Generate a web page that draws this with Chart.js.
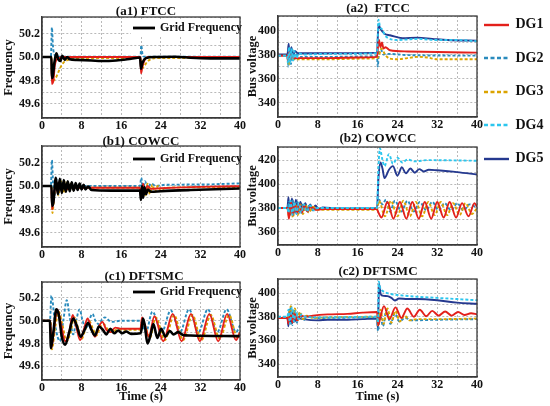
<!DOCTYPE html>
<html lang="en">
<head>
<meta charset="UTF-8">
<title>FTCC / COWCC / DFTSMC</title>
<script src="https://cdn.jsdelivr.net/npm/chart.js"></script>
<style>
  body { margin: 0; background: #fff; }
  #fig { position: relative; width: 550px; height: 406px; font-family: "Liberation Serif", "Times New Roman", serif; font-weight: bold; color: #111; overflow: hidden; }
  .panel { position: absolute; }
  .ttl { position: absolute; font-size: 13px; text-align: center; white-space: nowrap; line-height: 14px; }
  .gf { position: absolute; background: #fff; font-size: 12px; height: 16px; line-height: 16px; white-space: nowrap; z-index: 2; }
  .gf svg, .lg svg { vertical-align: middle; }
  .lg { position: absolute; left: 482px; font-size: 14px; height: 18px; line-height: 18px; white-space: nowrap; }
</style>
</head>
<body>
<div id="fig">
  <div class="panel" style="left:0;top:0;width:250px;height:130px"><canvas id="a1"></canvas></div>
  <div class="panel" style="left:244px;top:0;width:240px;height:130px"><canvas id="a2"></canvas></div>
  <div class="panel" style="left:0;top:130px;width:250px;height:130px"><canvas id="b1"></canvas></div>
  <div class="panel" style="left:244px;top:130px;width:240px;height:130px"><canvas id="b2"></canvas></div>
  <div class="panel" style="left:0;top:265px;width:250px;height:141px"><canvas id="c1"></canvas></div>
  <div class="panel" style="left:244px;top:265px;width:240px;height:141px"><canvas id="c2"></canvas></div>

  <div class="ttl" style="left:91px;width:110px;top:4px">(a1) FTCC</div>
  <div class="ttl" style="left:323px;width:110px;top:1px">(a2)&nbsp; FTCC</div>
  <div class="ttl" style="left:86px;width:110px;top:134px">(b1) COWCC</div>
  <div class="ttl" style="left:323px;width:110px;top:131px">(b2) COWCC</div>
  <div class="ttl" style="left:89px;width:110px;top:269px">(c1) DFTSMC</div>
  <div class="ttl" style="left:323px;width:110px;top:264px">(c2) DFTSMC</div>

  <div class="gf" style="left:131px;top:19px;width:108px"><svg width="26" height="6"><line x1="2" y1="3" x2="24" y2="3" stroke="#000" stroke-width="2.8"/></svg> Grid Frequency</div>
  <div class="gf" style="left:131px;top:150px;width:108px"><svg width="26" height="6"><line x1="2" y1="3" x2="24" y2="3" stroke="#000" stroke-width="2.8"/></svg> Grid Frequency</div>
  <div class="gf" style="left:131px;top:283px;width:108px"><svg width="26" height="6"><line x1="2" y1="3" x2="24" y2="3" stroke="#000" stroke-width="2.8"/></svg> Grid Frequency</div>

  <div id="dgLegend"></div>
</div>

<script>
// ---- data: [time (s), value] ----
const xTickLabels = [0, 8, 16, 24, 32, 40];
const freqTickLabels = [49.6, 49.8, 50.0, 50.2];
const voltTickLabels = [340, 360, 380, 400, 420];
const legendNames = ['DG1', 'DG2', 'DG3', 'DG4', 'DG5'];

// (a1) FTCC frequency
const a1Grid = [[0,50],[1.9,50],[2.0,49.82],[2.2,49.84],[2.5,49.95],[2.9,50.03],[3.3,49.98],[3.7,49.965],[4.1,50.01],[4.6,49.975],[5.1,50.0],[5.6,49.98],[7,49.975],[10,49.97],[12,49.965],[15,49.97],[18,49.985],[19.8,49.995],[20.0,49.9],[20.3,49.95],[21,49.99],[23,50.0],[27,50.002],[30,49.993],[34,49.988],[40,49.988]];
const a1DG1 = [[0,50],[1.9,50],[2.0,49.77],[2.3,49.8],[2.6,49.93],[3,49.98],[3.5,49.99],[4,50.0],[19.9,50.0],[20.0,49.86],[20.3,49.92],[20.8,49.98],[21.5,50.0],[40,50.0]];
const a1DG2 = [[0,50],[1.8,50],[2.0,50.25],[2.2,50.1],[2.5,50.02],[3,50.003],[19.9,50.003],[20.05,50.1],[20.3,50.02],[20.6,50.003],[40,50.003]];
const a1DG3 = [[0,50],[1.9,50],[2.05,49.79],[2.4,49.8],[3,49.84],[3.6,49.9],[4.3,49.95],[5,49.97],[6,49.98],[8,49.99],[19.9,49.99],[20.1,49.9],[20.6,49.92],[21.3,49.96],[22,49.98],[23,49.99],[40,49.99]];

// (b1) COWCC frequency
const b1Grid = [[0,50],[1.9,50],[2.05,49.83],[2.3,49.86],[2.8,50.07],[3.2,49.93],[3.6,50.06],[4.0,49.94],[4.4,50.05],[4.8,49.95],[5.2,50.04],[5.6,49.955],[6.0,50.03],[6.4,49.96],[6.8,50.025],[7.2,49.965],[7.6,50.02],[8.0,49.97],[8.4,50.01],[8.8,49.97],[9.3,49.995],[10,49.965],[14,49.96],[19.8,49.96],[20.0,49.88],[20.2,50.0],[20.45,49.9],[20.7,49.99],[21,49.93],[21.4,49.97],[22,49.95],[24,49.955],[30,49.965],[40,49.978]];
const b1DG1 = [[0,50],[1.9,50],[2.05,49.8],[2.4,49.9],[2.8,50.05],[3.2,49.94],[3.6,50.04],[4.0,49.96],[4.5,50.02],[5.0,49.97],[5.5,50.0],[6.5,49.985],[19.8,49.985],[20.05,49.9],[20.4,50.02],[20.8,49.95],[21.3,50.0],[22,49.975],[24,49.98],[30,49.99],[36,49.995],[40,49.998]];
const b1DG2 = [[0,50],[1.8,50],[2.0,50.22],[2.25,50.0],[2.5,49.9],[2.9,50.06],[3.3,49.93],[3.8,50.04],[4.3,49.96],[5,50.02],[6,50.0],[19.8,50.0],[20.05,50.07],[20.4,49.97],[20.8,50.04],[21.4,49.98],[22,50.02],[23,50.0],[25,50.01],[32,50.012],[40,50.022]];
const b1DG3 = [[0,50],[1.9,50],[2.1,49.77],[2.5,49.93],[2.9,50.04],[3.3,49.92],[3.8,50.04],[4.3,49.94],[4.8,50.03],[5.3,49.96],[5.8,50.02],[6.3,49.97],[6.8,50.01],[7.5,49.985],[19.8,49.985],[20.1,49.9],[20.5,50.0],[20.9,49.92],[21.3,50.02],[21.8,49.93],[22.3,50.01],[22.8,49.95],[23.4,50.0],[24,49.96],[25,49.985],[40,49.99]];

// (c1) DFTSMC frequency
const c1Grid = [[0,50],[1.6,50],[1.8,49.76],[2.3,49.9],[2.9,50.1],[3.4,50.05],[4.0,49.86],[4.7,49.79],[5.5,49.9],[6.3,50.02],[7.0,49.96],[7.8,49.86],[8.6,49.92],[9.3,49.98],[10.0,49.92],[10.7,49.87],[11.5,49.95],[12.3,49.92],[13,49.88],[13.8,49.93],[14.6,49.89],[15.4,49.915],[16.2,49.89],[17,49.905],[18,49.885],[19.9,49.89],[20.1,49.92],[20.4,50.02],[20.8,49.95],[21.3,49.8],[21.9,49.87],[22.5,49.97],[23.3,49.85],[24.1,49.93],[24.9,49.86],[25.8,49.91],[26.6,49.88],[27.5,49.9],[28.5,49.875],[30,49.87],[40,49.865]];
const c1DG1 = [[0,50],[1.7,50],[1.9,49.76],[2.5,49.95],[3.1,50.1],[3.8,49.98],[4.7,49.82],[5.5,49.9],[6.2,50.05],[6.9,49.95],[7.7,49.83],[8.5,49.93],[9.2,50.02],[9.9,49.94],[10.7,49.86],[11.5,49.95],[12.2,49.99],[13,49.92],[13.8,49.9],[14.8,49.94],[16,49.93],[19.9,49.93],[20.2,50.03],[20.8,49.96],[21.6,49.86],[22.7,50.04],[24.5,49.82],[26.4,50.06],[28.2,49.82],[30.1,50.06],[31.9,49.82],[33.8,50.06],[35.6,49.82],[37.4,50.06],[39.2,49.83],[40,49.9]];
const c1DG2 = [[0,50],[1.6,50],[1.9,50.22],[2.7,49.95],[3.6,49.82],[4.3,50.0],[5.0,50.18],[5.6,50.03],[6.3,49.88],[6.9,50.0],[7.6,50.1],[8.2,50.0],[8.9,49.93],[9.5,50.0],[10.2,50.06],[10.8,50.0],[11.5,49.97],[12.1,50.01],[12.7,50.03],[14,49.99],[16,50.0],[19.9,50.0],[20.3,49.96],[21,49.9],[22.3,50.08],[24.2,49.9],[26.0,50.09],[27.9,49.9],[29.7,50.1],[31.6,49.9],[33.5,50.1],[35.4,49.9],[37.3,50.1],[39.2,49.9],[40,49.96]];
const c1DG3 = [[0,50],[1.7,50],[2.0,49.75],[2.7,49.95],[3.4,50.08],[4.1,49.97],[5.0,49.82],[5.8,49.9],[6.5,50.03],[7.2,49.95],[8.0,49.84],[8.8,49.93],[9.5,50.0],[10.2,49.94],[11.0,49.87],[11.8,49.95],[12.5,49.97],[13.3,49.92],[14.2,49.9],[15.2,49.925],[16.5,49.92],[19.9,49.92],[20.3,50.02],[20.9,49.95],[21.8,49.85],[23.0,50.03],[24.8,49.83],[26.7,50.05],[28.5,49.83],[30.4,50.05],[32.2,49.83],[34.1,50.05],[35.9,49.84],[37.8,50.05],[39.5,49.85],[40,49.9]];

// (a2) FTCC bus voltage
const a2DG1 = [[0,379],[1.9,379],[2.0,374],[2.2,382],[2.5,376],[2.8,380],[3.2,377],[4,377],[10,377],[16,377.5],[19.9,378],[20.1,386],[20.3,392],[20.6,386],[20.9,390],[21.2,385],[21.6,386],[22.5,383.5],[26,382.5],[32,382],[40,381.5]];
const a2DG2 = [[0,379],[1.9,379],[2.05,370],[2.3,386],[2.6,372],[2.9,384],[3.3,376],[3.8,380],[4.5,378],[10,378],[19.9,378.5],[20.05,370],[20.3,382],[20.7,384],[21.2,380],[22,380.5],[26,379.5],[40,379]];
const a2DG3 = [[0,379],[1.9,379],[2.1,371],[2.5,378],[3,376],[4,376],[10,376],[16,376.5],[19.9,377],[20.2,378],[20.8,385],[21.5,380],[22.5,376.5],[24,376],[26,377],[28,378],[30,377.5],[32,376],[40,376]];
const a2DG4 = [[0,379],[1.9,379],[2.0,372],[2.2,386],[2.45,373],[2.7,385],[3.0,375],[3.3,383],[3.7,377],[4.2,381],[5,380],[10,380.5],[19.9,381],[20.2,409],[20.5,403],[20.9,401],[21.5,396],[22,394],[24,392],[26,392.5],[28,393],[32,392],[36,392],[40,391]];
const a2DG5 = [[0,380],[1.9,380],[2.15,389],[2.4,375],[2.7,386],[3.0,378],[3.4,383],[4,381],[10,381],[19.9,381.5],[20.2,405],[20.5,402],[21,399],[21.5,397],[22.5,396],[25,393.5],[28,394],[31,393],[34,392],[40,391.5]];

// (b2) COWCC bus voltage
const b2DG1 = [[0,380],[1.9,380],[2.2,371],[2.6,385],[3.0,374],[3.4,384],[3.8,375],[4.3,383],[4.8,376],[5.3,382],[5.9,377],[6.6,381],[7.5,378.5],[9,379],[19.9,379],[20.2,376],[20.8,372],[22.0,385],[23.2,371],[24.5,385],[25.8,371],[27.0,385],[28.3,371],[29.5,385],[30.8,371],[32.0,385],[33.3,372],[34.5,385],[35.8,372],[37.0,384],[38.3,373],[39.5,384],[40,381]];
const b2DG2 = [[0,380],[1.9,380],[2.1,385],[2.5,374],[2.9,387],[3.4,375],[3.9,385],[4.4,376],[5,383],[5.6,377],[6.3,382],[7,378],[8,379.5],[19.9,379.5],[20.3,387],[21,383],[21.7,387],[22.5,377],[23.5,386],[24.8,377],[26,386],[27.3,377],[28.5,385],[29.8,378],[31,385],[32.3,378],[33.5,384],[34.8,378],[36,384],[37.3,378],[38.5,383],[40,380]];
const b2DG3 = [[0,380],[1.9,380],[2.2,373],[2.6,383],[3.0,372],[3.5,384],[4.0,374],[4.5,383],[5.0,375],[5.6,382],[6.2,376],[7,381],[8,378.5],[10,378.5],[19.9,378.5],[20.3,386],[21.5,373],[22.7,386],[24,373],[25.2,386],[26.5,373],[27.7,385],[29,373],[30.2,385],[31.5,374],[32.7,385],[34,374],[35.2,384],[36.5,374],[37.7,384],[39,375],[40,380]];
const b2DG4 = [[0,380],[1.9,380],[2.1,376],[2.5,386],[2.9,374],[3.3,385],[3.7,375],[4.2,384],[4.7,376],[5.2,383],[5.8,377],[6.5,382],[7.2,378],[8,380],[19.9,380],[20.2,415],[20.5,430],[20.9,422],[21.4,415],[22.3,425],[23.1,417],[24,422],[25,418],[26,420.5],[27.5,419],[30,420],[40,419.5]];
const b2DG5 = [[0,380],[1.9,380],[2.1,389],[2.4,374],[2.8,388],[3.2,376],[3.6,387],[4.0,377],[4.5,385],[5.0,378],[5.5,384],[6,377],[6.5,383],[7,378],[7.5,382],[8.2,379],[9,380.5],[12,379.5],[19.9,379.5],[20.2,405],[20.6,418],[21.0,413],[21.4,405],[22.3,412],[23.1,415],[24.0,407],[24.9,414],[25.7,409],[26.6,413],[27.5,409.5],[28.4,412.5],[29.3,410.5],[30.3,412],[32,411.5],[36,410],[40,408]];

// (c2) DFTSMC bus voltage
const c2DG1 = [[0,379],[1.9,379],[2.1,374],[2.5,384],[2.9,375],[3.3,383],[3.8,377],[4.5,381],[5.5,380],[7,381],[10,382],[14,382.5],[17,383.5],[19.9,384],[20.15,373],[20.6,380],[21.3,389],[22.4,378],[23.6,388],[24.8,379],[26.0,387],[27.3,380],[28.5,386],[29.8,380.5],[31.0,385],[32.3,381],[33.6,384.5],[34.9,381],[36.2,384],[37.5,381.5],[38.8,383],[40,382]];
const c2DG2 = [[0,379],[1.9,379],[2.1,375],[2.5,388],[2.9,373],[3.3,386],[3.8,375],[4.3,383],[5,377],[6,380],[8,379],[19.9,379.5],[20.1,368],[20.5,383],[21.1,372],[21.8,386],[22.6,374],[23.5,383],[24.4,376],[25.5,379],[27,377],[32,377.5],[40,378]];
const c2DG3 = [[0,379],[1.9,379],[2.2,383],[2.6,389],[3.0,376],[3.4,387],[3.9,376],[4.4,384],[5,378],[5.8,381],[7,379],[10,379.5],[19.9,380],[20.1,373],[20.6,386],[21.2,374],[22,387],[22.8,375],[23.6,385],[24.5,376],[25.4,381],[26.5,377],[28,378],[32,378],[40,378.5]];
const c2DG4 = [[0,380],[1.9,380],[2.1,386],[2.4,374],[2.8,388],[3.2,376],[3.6,385],[4.1,378],[4.7,382],[5.5,380],[8,379.5],[19.9,380],[20.1,375],[20.25,410],[20.5,405],[21,402],[22,400],[24,398.5],[28,397],[32,396],[36,395],[40,394]];
const c2DG5 = [[0,379],[1.9,379],[2.1,372],[2.3,386],[2.6,374],[2.9,384],[3.3,376],[3.8,379],[5,378],[8,377],[10,377.5],[14,377.5],[17,378],[19.9,378.5],[20.1,370],[20.3,408],[20.6,400],[21,398],[22,397.5],[22.8,396],[23.5,393.8],[24.3,395.5],[26,395],[28,395],[32,394],[36,392],[40,391]];

// ---- styling ----
const seriesStyle = {
  grid: { color: '#000000', width: 2.6, dash: [] },
  DG1: { color: '#e3201b', width: 1.9, dash: [] },
  DG2: { color: '#2a8bbd', width: 1.9, dash: [3, 2] },
  DG3: { color: '#dba300', width: 1.9, dash: [3, 2] },
  DG4: { color: '#2cc6ee', width: 1.9, dash: [3, 2] },
  DG5: { color: '#25398f', width: 1.9, dash: [] }
};
const serif = "'Liberation Serif', 'Times New Roman', serif";
const gridColor = '#b2b2b2';
const frameColor = '#3a3a3a';

function line(pairs, key) {
  const s = seriesStyle[key];
  return {
    data: pairs.map(p => ({ x: p[0], y: p[1] })),
    borderColor: s.color, borderWidth: s.width, borderDash: s.dash,
    pointRadius: 0, fill: false, cubicInterpolationMode: 'monotone'
  };
}

// chart area frame on all four sides
const framePlugin = {
  id: 'frame',
  afterDraw(chart) {
    const a = chart.chartArea, ctx = chart.ctx;
    ctx.save();
    ctx.strokeStyle = frameColor;
    ctx.lineWidth = 1.3;
    ctx.strokeRect(a.left, a.top, a.right - a.left, a.bottom - a.top);
    ctx.restore();
  }
};

function shown(list, v) {
  return list.some(t => Math.abs(t - v) < 1e-6);
}

function makePanel(id, datasets, g) {
  new Chart(document.getElementById(id), {
    type: 'line',
    data: { datasets },
    options: {
      responsive: true, maintainAspectRatio: false, animation: false,
      layout: { padding: { left: 0, right: g.padRight, top: g.padTop, bottom: 0 } },
      plugins: { legend: { display: false }, tooltip: { enabled: false } },
      scales: {
        x: {
          type: 'linear', min: 0, max: 40,
          ticks: {
            stepSize: 4, padding: 1, autoSkip: false, maxRotation: 0, color: '#111',
            font: { family: serif, size: 12, weight: 'bold' },
            callback: v => shown(xTickLabels, v) ? String(v) : ''
          },
          grid: { color: gridColor, lineWidth: 0.9, drawTicks: false },
          border: { color: frameColor, width: 1.3, dash: [2, 2] },
          title: {
            display: !!g.xTitle, text: 'Time (s)', color: '#111', padding: { top: 0, bottom: 2 },
            font: { family: serif, size: 12.5, weight: 'bold' }
          },
          afterFit: s => { s.height = g.xH; }
        },
        y: {
          type: 'linear', min: g.yMin, max: g.yMax,
          ticks: {
            stepSize: g.yStep, padding: 2, autoSkip: false, color: '#111',
            font: { family: serif, size: 12, weight: 'bold' },
            callback: v => shown(g.yLabels, v) ? (g.yStep < 1 ? v.toFixed(1) : String(Math.round(v))) : ''
          },
          grid: { color: gridColor, lineWidth: 0.9, drawTicks: false },
          border: { color: frameColor, width: 1.3, dash: [2, 2] },
          title: {
            display: true, text: g.yTitle, color: '#111', padding: { top: 1, bottom: 0 },
            font: { family: serif, size: 12.5, weight: 'bold' }
          },
          afterFit: s => { s.width = g.yW; }
        }
      }
    },
    plugins: [framePlugin]
  });
}

const freqAxis = { yMin: 49.48, yMax: 50.34, yStep: 0.1, yLabels: freqTickLabels, yTitle: 'Frequency', yW: 42, padRight: 10 };
const voltAxis = { yStep: 10, yLabels: voltTickLabels, yTitle: 'Bus voltage', yW: 34, padRight: 6 };

makePanel('a1', [line(a1Grid, 'grid'), line(a1DG1, 'DG1'), line(a1DG3, 'DG3'), line(a1DG2, 'DG2')],
  Object.assign({}, freqAxis, { padTop: 17, xH: 12 }));
makePanel('b1', [line(b1Grid, 'grid'), line(b1DG1, 'DG1'), line(b1DG3, 'DG3'), line(b1DG2, 'DG2')],
  Object.assign({}, freqAxis, { padTop: 16, xH: 13 }));
makePanel('c1', [line(c1Grid, 'grid'), line(c1DG1, 'DG1'), line(c1DG3, 'DG3'), line(c1DG2, 'DG2')],
  Object.assign({}, freqAxis, { padTop: 17, xH: 26, xTitle: true }));

makePanel('a2', [line(a2DG4, 'DG4'), line(a2DG1, 'DG1'), line(a2DG3, 'DG3'), line(a2DG2, 'DG2'), line(a2DG5, 'DG5')],
  Object.assign({}, voltAxis, { yMin: 328, yMax: 412, padTop: 16, xH: 13 }));
makePanel('b2', [line(b2DG4, 'DG4'), line(b2DG1, 'DG1'), line(b2DG3, 'DG3'), line(b2DG2, 'DG2'), line(b2DG5, 'DG5')],
  Object.assign({}, voltAxis, { yMin: 349, yMax: 431, padTop: 17, xH: 15 }));
makePanel('c2', [line(c2DG4, 'DG4'), line(c2DG1, 'DG1'), line(c2DG3, 'DG3'), line(c2DG2, 'DG2'), line(c2DG5, 'DG5')],
  Object.assign({}, voltAxis, { yMin: 329, yMax: 412, padTop: 14, xH: 29, xTitle: true }));

// right-hand DG legend
const legendBox = document.getElementById('dgLegend');
legendNames.forEach((name, i) => {
  const s = seriesStyle[name];
  const row = document.createElement('div');
  row.className = 'lg';
  row.style.top = (15 + i * 33.5) + 'px';
  const dash = s.dash.length ? ' stroke-dasharray="4 2.5"' : '';
  row.innerHTML = '<svg width="30" height="6"><line x1="2" y1="3" x2="27" y2="3" stroke="' + s.color +
    '" stroke-width="2.4"' + dash + '/></svg> ' + name;
  legendBox.appendChild(row);
});
</script>
</body>
</html>
